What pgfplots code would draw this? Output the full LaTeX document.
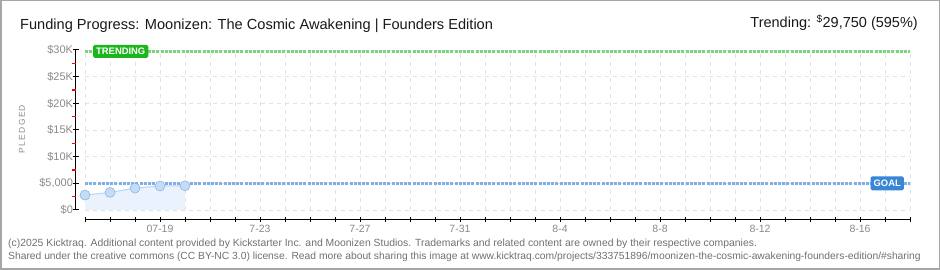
\documentclass[border=0pt]{standalone}
\usepackage{pgfplots}
\pgfplotsset{compat=1.18}
\usepackage{fontspec}
\setmainfont{Liberation Sans}

\definecolor{lbl}{HTML}{8A8A8A}
\definecolor{foot}{HTML}{707070}
\definecolor{gridc}{HTML}{E2E2E2}
\definecolor{trendbox}{HTML}{1DB51D}
\definecolor{trenddot}{HTML}{7FD27F}
\definecolor{goalbox}{HTML}{3A86D6}
\definecolor{goaldot}{HTML}{7DB0E8}
\definecolor{areafill}{HTML}{EAF3FD}
\definecolor{linec}{HTML}{B9D5F2}
\definecolor{markf}{HTML}{C4DCF6}
\definecolor{markd}{HTML}{8FB5E2}

\begin{document}
\begin{tikzpicture}[x=1pt,y=1pt]
\useasboundingbox (0,0) rectangle (940,270);
\draw[gray!70, line width=1.5pt] (0.75,0.75) rectangle (939.25,269.25);

% titles
\node[anchor=base west, inner sep=0, text=black!90, font=\fontsize{14.6}{14.6}\selectfont]
  at (20,240) {Funding Progress: Moonizen: The Cosmic Awakening | Founders Edition};
\node[anchor=base east, inner sep=0, text=black!90, font=\fontsize{14.5}{14.5}\selectfont]
  at (918,242) {Trending: \textsuperscript{\$}29,750 (595\%)};

% y label
\node[rotate=90, text=lbl, font=\fontsize{8.5}{8.5}\selectfont\addfontfeatures{LetterSpace=15}]
  at (22,141) {PLEDGED};

% main plotting area
\begin{axis}[
    at={(85pt,60pt)}, anchor=south west,
    scale only axis, width=825pt, height=160pt,
    xmin=0, xmax=33, ymin=0, ymax=30000,
    scaled y ticks=false,
    axis line style={draw=none},
    xtick={0,...,33}, ytick={0,5000,...,30000},
    xticklabels={}, yticklabels={},
    major tick length=0pt,
    grid=major,
    grid style={gridc, dash pattern=on 4pt off 4pt, line width=0.8pt},
    clip=false,
]
  \addplot[draw=none, fill=areafill] coordinates {
    (0,2800) (1,3300) (2,4100) (3,4500) (4,4550)
  } \closedcycle;
  \addplot[linec, line width=1pt, mark=*, mark size=5pt,
           mark options={fill=markf, draw=markd, line width=0.6pt}] coordinates {
    (0,2800) (1,3300) (2,4100) (3,4500) (4,4550)
  };
  % goal and trending lines
  \addplot[goaldot, line width=3pt, dash pattern=on 3pt off 1.2pt] coordinates {(0,5000) (33,5000)};
  \addplot[trenddot, line width=3pt, dash pattern=on 3pt off 1.2pt] coordinates {(0,29750) (33,29750)};
  \node[fill=trendbox, text=white, rounded corners=1.5pt, inner xsep=3pt, inner ysep=0pt,
        minimum height=13pt, anchor=west, font=\bfseries\fontsize{9.4}{9.4}\selectfont]
    at (axis cs:0.32,29750) {TRENDING};
  \node[fill=goalbox, text=white, rounded corners=1.5pt, inner xsep=3pt, inner ysep=0pt,
        minimum height=14pt, anchor=east, font=\bfseries\fontsize{9.4}{9.4}\selectfont]
    at (axis cs:32.76,5000) {GOAL};
\end{axis}

% y axis, set apart to the left
\begin{axis}[
    at={(76pt,60pt)}, anchor=south west,
    scale only axis, width=1pt, height=160pt,
    xmin=0, xmax=1, ymin=0, ymax=30000,
    scaled y ticks=false,
    axis x line=none, axis y line*=left,
    y axis line style={-, black, line width=1pt},
    ytick={0,5000,...,30000},
    yticklabels={\$0,\$5{,}000,\$10K,\$15K,\$20K,\$25K,\$30K},
    extra y ticks={2500,7500,12500,17500,22500,27500},
    extra y tick labels={},
    extra y tick style={tick align=outside, major tick length=4pt,
                        major tick style={red, line width=1.2pt}},
    tick align=center,
    major tick length=7pt,
    major tick style={black, line width=1pt},
    yticklabel style={text=lbl, font=\fontsize{11}{11}\selectfont, anchor=east, xshift=4pt},
]
\end{axis}

% x axis, set apart below
\begin{axis}[
    at={(85pt,50pt)}, anchor=south west,
    scale only axis, width=825pt, height=1pt,
    xmin=0, xmax=33, ymin=0, ymax=1,
    axis y line=none, axis x line*=bottom,
    x axis line style={-, black, line width=1pt},
    xtick={0,...,33},
    xticklabels={,,,07-19,,,,7-23,,,,7-27,,,,7-31,,,,8-4,,,,8-8,,,,8-12,,,,8-16,,},
    tick align=center, major tick length=5pt,
    major tick style={black, line width=1pt},
    xticklabel style={text=lbl, font=\fontsize{10.5}{10.5}\selectfont, yshift=1pt},
]
\end{axis}

% footer
\node[anchor=base west, inner sep=0, text=foot, font=\fontsize{10.4}{10.4}\selectfont]
  at (8,23) {(c)2025 Kicktraq. Additional content provided by Kickstarter Inc. and Moonizen Studios. Trademarks and related content are owned by their respective companies.};
\node[anchor=base west, inner sep=0, text=foot, font=\fontsize{10.3}{10.3}\selectfont]
  at (8,10.5) {Shared under the creative commons (CC BY-NC 3.0) license. Read more about sharing this image at www.kicktraq.com/projects/333751896/moonizen-the-cosmic-awakening-founders-edition/\#sharing};
\end{tikzpicture}
\end{document}
